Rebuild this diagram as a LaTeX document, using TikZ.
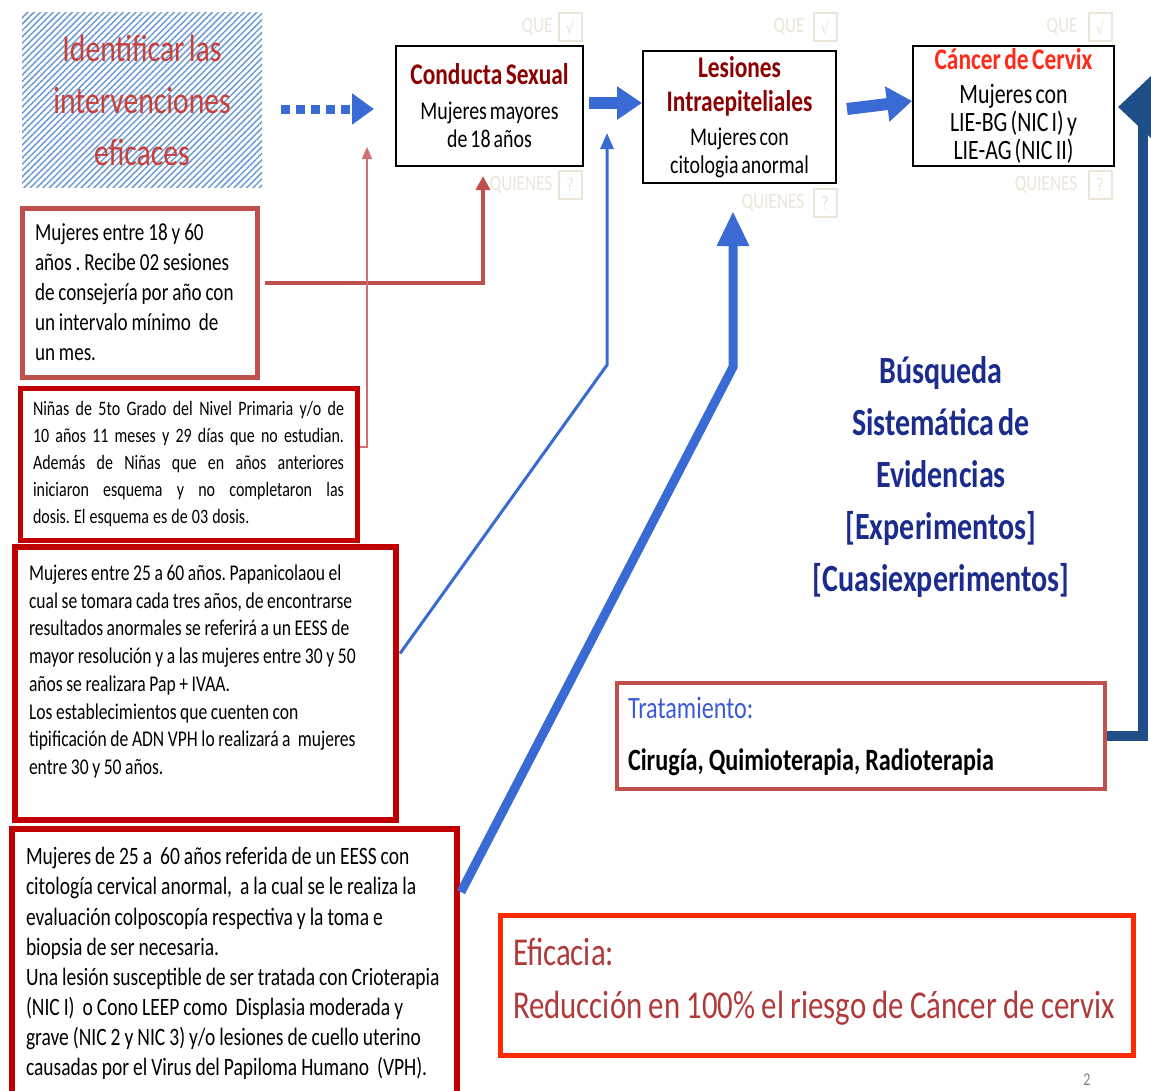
\documentclass[tikz,border=0pt]{standalone}
\usepackage{fontspec}
\setmainfont{Carlito}[FakeStretch=0.78,WordSpace=0.65]
\newfontfamily\symfont{DejaVu Sans}[FakeStretch=0.78]
\usetikzlibrary{arrows.meta,patterns.meta,calc}
\definecolor{boxredA}{HTML}{C0504D}
\definecolor{boxredB}{HTML}{C00000}
\definecolor{arrblue}{HTML}{3A6BD4}
\definecolor{navy}{HTML}{1C2C8C}
\definecolor{elbowblue}{HTML}{1F4E89}
\definecolor{hatch}{HTML}{6E9BD6}
\definecolor{identred}{HTML}{C8403C}
\definecolor{darkred}{HTML}{8B0000}
\definecolor{brightred}{HTML}{FF2A1A}
\definecolor{efired}{HTML}{FF2A00}
\definecolor{efitext}{HTML}{B03A3A}
\definecolor{tratblue}{HTML}{3B5BD6}
\definecolor{faintc}{HTML}{ECE6D8}
\definecolor{thinred}{HTML}{D07070}
\newcommand\ttlA{\fontsize{30}{28}\selectfont\bfseries}
\newcommand\bdyA{\fontsize{25.5}{28}\selectfont\mdseries\color{black}}
\newcommand\bdyB{\fontsize{28}{28}\selectfont\mdseries\color{black}}
\newcommand\tsp{\frenchspacing\spaceskip=0.16em\relax}
\newcommand\jsp{\frenchspacing\spaceskip=0.2em plus 1em\relax}
\tikzset{
  topbox/.style={draw=black, line width=2pt, inner sep=0pt, align=center, font=\fontsize{24}{28}\selectfont},
  leftbox/.style={line width=5pt, inner ysep=0pt, align=left},
  faint/.style={text=faintc, font=\fontsize{22}{22}\selectfont, inner sep=0pt},
  faintbox/.style={draw=faintc, line width=2pt, minimum width=23pt, minimum height=28pt, inner sep=0pt, text=faintc, font=\symfont\fontsize{18}{18}\selectfont},
}
\begin{document}
\begin{tikzpicture}[x=1pt,y=-1pt,line join=miter]
\path[use as bounding box, fill=white] (0,0) rectangle (1151,1090);

% hatched title
\node[minimum width=240pt, minimum height=175pt, inner sep=0pt,
  pattern={Lines[angle=45,distance=4.5pt,line width=1.5pt]}, pattern color=hatch,
  align=center, text=identred, font=\fontsize{38}{52}\selectfont] (ident) at (142,100)
  {Identificar las\\intervenciones\\eficaces};

% top boxes
\node[topbox, minimum width=187pt, minimum height=120pt] (cond) at (489.5,106)
  {\ttlA\color{darkred}Conducta Sexual\\[7pt]\bdyA Mujeres mayores\\\bdyA de 18 años};
\node[topbox, minimum width=193pt, minimum height=132pt] (les) at (739.5,117)
  {\ttlA\color{darkred}Lesiones\\[6pt]\ttlA\color{darkred}Intraepiteliales\\[6pt]\bdyA Mujeres con\\\bdyA citologia anormal};
\node[topbox, minimum width=201pt, minimum height=120pt] (cancer) at (1013.5,106)
  {\ttlA\color{brightred}Cáncer de Cervix\\[6pt]\bdyB Mujeres con\\\bdyB LIE-BG (NIC I) y\\\bdyB LIE-AG (NIC II)};

% faint labels
\node[faint] (que1) at (537,27) {QUE};
\node[faintbox] (que1b) at (570,27) {√};
\node[faint] (que2) at (789,27) {QUE};
\node[faintbox] (que2b) at (825,27) {√};
\node[faint] (que3) at (1062,27) {QUE};
\node[faintbox] (que3b) at (1100,27) {√};
\node[faint] (qui1) at (521,185) {QUIENES};
\node[faintbox] (qui1b) at (570,185) {?};
\node[faint] (qui2) at (773,203) {QUIENES};
\node[faintbox] (qui2b) at (825,203) {?};
\node[faint] (qui3) at (1046,185) {QUIENES};
\node[faintbox] (qui3b) at (1100,185) {?};

% left boxes
\node[leftbox, draw=boxredA, minimum width=235pt, minimum height=169pt, inner xsep=13pt,
  text width=209pt, font=\fontsize{24.5}{30}\selectfont] (b1) at (139.5,292.5)
  {\tsp Mujeres entre 18 y 60\\años . Recibe 02 sesiones\\de consejería por año con\\un intervalo mínimo~ de\\un mes.};
\node[leftbox, draw=boxredB, minimum width=337pt, minimum height=152pt, inner xsep=13pt,
  text width=311pt, align=justify, font=\fontsize{20.5}{27}\selectfont] (b2) at (188.5,464)
  {\jsp Niñas de 5to Grado del Nivel Primaria y/o de\linebreak 10 años 11 meses y 29 días que no estudian.\linebreak Además de Niñas que en años anteriores\linebreak iniciaron esquema y no completaron las\linebreak dosis. El esquema es de 03 dosis.};
\node[leftbox, draw=boxredB, line width=6pt, minimum width=381pt, minimum height=273pt, inner xsep=14pt,
  text width=353pt, font=\fontsize{22.5}{27.7}\selectfont] (b3) at (205.5,683.5)
  {\tsp Mujeres entre 25 a 60 años. Papanicolaou el\\cual se tomara cada tres años, de encontrarse\\resultados anormales se referirá a un EESS de\\mayor resolución y a las mujeres entre 30 y 50\\años se realizara Pap + IVAA.\\Los establecimientos que cuenten con\\tipificación de ADN VPH lo realizará a~ mujeres\\entre 30 y 50 años.\\~};
\node[leftbox, draw=boxredB, line width=6pt, minimum width=445pt, minimum height=269pt, inner xsep=14pt,
  text width=417pt, font=\fontsize{25}{30.1}\selectfont] (b4) at (234.5,963.5)
  {\tsp Mujeres de 25 a~ 60 años referida de un EESS con\\citología cervical anormal,~ a la cual se le realiza la\\evaluación colposcopía respectiva y la toma e\\biopsia de ser necesaria.\\Una lesión susceptible de ser tratada con Crioterapia\\(NIC I)~ o Cono LEEP como~ Displasia moderada y\\grave (NIC 2 y NIC 3) y/o lesiones de cuello uterino\\causadas por el Virus del Papiloma Humano~ (VPH).};

% search text
\node[text=navy, align=center, font=\fontsize{38.5}{52}\selectfont\bfseries] (busq) at (941,477)
  {Búsqueda\\Sistemática de\\Evidencias\\{[}Experimentos{]}\\{[}Cuasiexperimentos{]}};

% treatment
\node[leftbox, draw=boxredA, line width=4pt, minimum width=488pt, minimum height=106pt, inner xsep=11pt,
  text width=466pt, font=\fontsize{31}{52}\selectfont] (trat) at (861,736)
  {\tsp\textcolor{tratblue}{Tratamiento:}\\
   \textbf{Cirugía, Quimioterapia, Radioterapia}};

% efficacy
\node[leftbox, draw=efired, minimum width=633pt, minimum height=140pt, inner xsep=13pt,
  text width=607pt, text=efitext, font=\fontsize{39.5}{53}\selectfont] (efi) at (816.5,985)
  {\tsp Eficacia:\\Reducción en 100\% el riesgo de Cáncer de cervix\\[-40pt]~};

\node[text=gray, font=\fontsize{18}{18}\selectfont, inner sep=0pt] (pnum) at (1087,1080) {2};

% connectors
\coordinate (p2) at (367,147);
\coordinate (p3) at (607,133);
\draw[arrblue, line width=9pt, dash pattern=on 9pt off 6pt, -{Triangle[length=22pt,width=30pt]}]
  ([xshift=18pt,yshift=-9pt]ident.east) -- ([xshift=-21pt,yshift=-3pt]cond.west);
\draw[arrblue, line width=12pt, -{Triangle[length=25pt,width=32pt]}]
  ([xshift=5pt,yshift=3pt]cond.east) -- ([yshift=14pt]les.west);
\draw[arrblue, line width=12pt, -{Triangle[length=25pt,width=34pt]}]
  ([xshift=10pt,yshift=8pt]les.east) -- ([yshift=5pt]cancer.west);
\draw[boxredA, line width=4pt, -{Triangle[length=14pt,width=14pt]}]
  ([xshift=5pt,yshift=9.5pt]b1.east) -| ([xshift=-6.5pt,yshift=-9pt]cond.south);
\draw[thinred, line width=1.5pt, -{Triangle[length=12pt,width=10pt]}]
  ([yshift=17pt]b2.east) -| (p2);
\draw[arrblue, line width=3pt, -{Triangle[length=16pt,width=13pt]}]
  ([xshift=1pt,yshift=30pt]b3.east) -- (607,365) -- (p3);
\draw[arrblue, line width=9pt, -{Triangle[length=35pt,width=30pt]}]
  ([xshift=1pt,yshift=71.5pt]b4.east) -- (733,367) -- ([xshift=-6.5pt,yshift=-27pt]les.south);
\draw[elbowblue, line width=10pt, -{Triangle[length=33pt,width=60pt]}]
  (trat.east) -- (1143,736) |- ([xshift=3pt,yshift=-1pt]cancer.east);
\end{tikzpicture}
\end{document}
